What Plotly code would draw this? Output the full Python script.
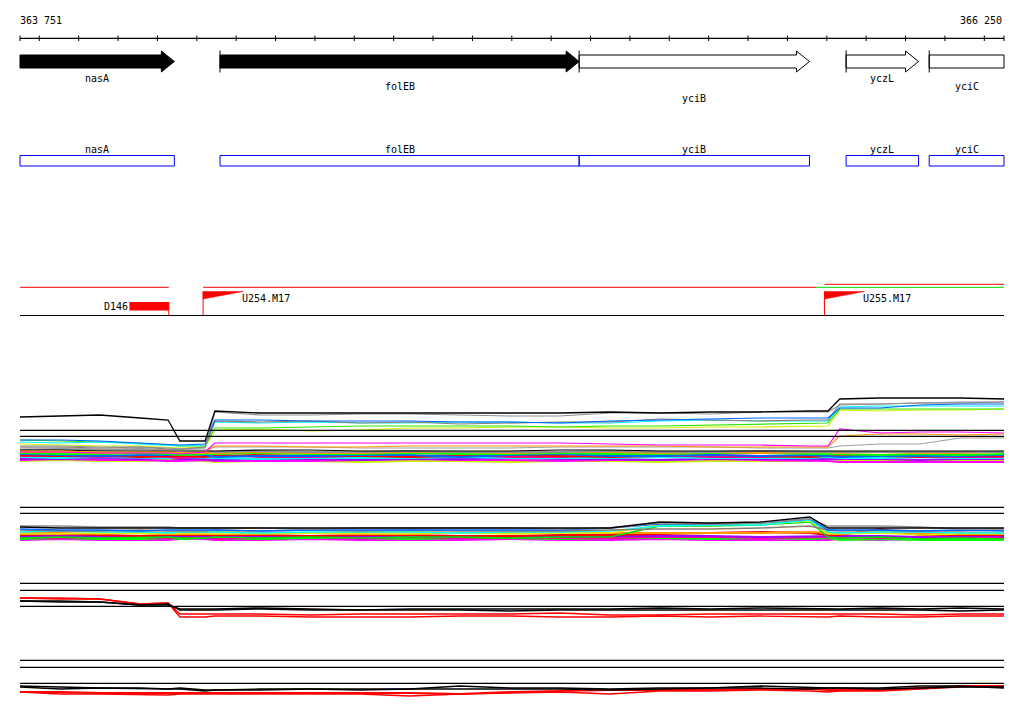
import plotly.graph_objects as go

W, H = 1024, 714
X_START, X_END = 363751, 366250
PX_LEFT, PX_RIGHT = 20, 1004

ruler_labels = ["363 751", "366 250"]
ruler_ticks = [363751] + list(range(363800, 366201, 100)) + [366250]

# genes
gene_names = ["nasA", "folEB", "yciB", "yczL", "yciC"]
gene_start = [363751, 364259, 365171, 365849, 366060]
gene_end = [364143, 365171, 365756, 366033, 366250]
gene_filled = [True, True, False, False, False]
gene_arrow = [True, True, True, True, False]
gene_start_tick = [False, True, True, True, True]

# annotation features
feat_names = ["D146", "U254.M17", "U255.M17"]
feat_pos = [364129, 364216, 365794]
feat_dir = ["left", "right", "right"]
d146_block = [364029, 364129]
seg_red = [[363751, 364129], [364216, 365773]]
seg_red_hi = [[365794, 366250]]
seg_green = [[365773, 366250]]

# probe positions (bp)
probe_pos = [363751, 363853, 363954, 364056, 364127, 364157, 364221, 364246, 364361,
             364488, 364615, 364741, 364868, 364995, 365122, 365249, 365376, 365503,
             365630, 365757, 365803, 365833, 365935, 366037, 366138, 366250]

# ---- track 1 ----
t1_ref = [3.97, 3.37]
t1_black = [5.3, 5.4, 5.5, 5.2, 5.0, 2.9, 2.9, 5.9, 5.7, 5.7, 5.7, 5.7, 5.7, 5.7, 5.7, 5.8, 5.7, 5.8, 5.8, 5.9, 5.9, 7.1, 7.2, 7.2, 7.2, 7.1]
t1_grey = [2.4, 2.4, 2.3, 2.3, 2.2, 2.1, 2.2, 5.8, 5.5, 5.5, 5.6, 5.6, 5.5, 5.4, 5.4, 5.7, 5.7, 5.6, 5.8, 5.8, 5.8, 6.5, 6.6, 6.7, 6.8, 6.8]
t1_blue = [3.0, 3.0, 2.9, 2.7, 2.5, 2.5, 2.6, 5.0, 5.0, 4.9, 4.9, 4.9, 4.8, 4.8, 4.7, 4.9, 5.0, 5.1, 5.2, 5.2, 5.2, 6.2, 6.2, 6.5, 6.6, 6.6]
t1_cyan = [2.8, 2.7, 2.8, 2.6, 2.4, 2.4, 2.5, 4.8, 4.7, 4.8, 4.7, 4.7, 4.8, 4.8, 4.7, 4.7, 4.9, 5.0, 4.9, 4.9, 4.9, 6.3, 6.4, 6.4, 6.4, 6.4]
t1_brown = [2.3, 2.3, 2.2, 2.3, 2.1, 2.1, 2.3, 4.9, 4.8, 4.9, 4.7, 4.8, 4.6, 4.7, 4.8, 4.8, 5.1, 5.0, 4.9, 5.0, 5.0, 6.6, 6.6, 6.7, 6.7, 6.8]
t1_green = [3.0, 2.9, 2.8, 2.7, 2.5, 2.4, 2.4, 4.2, 4.2, 4.3, 4.4, 4.4, 4.4, 4.4, 4.3, 4.4, 4.4, 4.5, 4.6, 4.7, 4.7, 6.1, 6.1, 6.1, 6.1, 6.1]
t1_yellow = [2.6, 2.5, 2.4, 2.4, 2.3, 2.2, 2.3, 4.0, 4.1, 3.9, 4.0, 4.2, 4.2, 4.3, 4.3, 4.2, 4.2, 4.3, 4.3, 4.4, 4.4, 6.0, 5.9, 6.0, 6.0, 6.1]
t1_lgrey = [2.2, 2.2, 2.1, 2.1, 2.0, 2.0, 2.0, 2.3, 2.3, 2.3, 2.2, 2.2, 2.2, 2.2, 2.3, 2.3, 2.3, 2.3, 2.2, 2.2, 2.2, 2.4, 2.6, 2.6, 3.2, 3.2]
t1_magenta = [1.8, 1.8, 1.7, 1.7, 1.7, 1.6, 1.8, 2.7, 2.7, 2.7, 2.7, 2.7, 2.7, 2.7, 2.7, 2.6, 2.5, 2.5, 2.5, 2.4, 2.4, 4.1, 3.7, 3.8, 3.8, 3.7]
t1_orange = [1.9, 1.9, 1.8, 1.8, 1.8, 1.7, 1.8, 2.4, 2.4, 2.3, 2.3, 2.4, 2.4, 2.4, 2.4, 2.4, 2.4, 2.3, 2.3, 2.3, 2.3, 3.4, 3.6, 3.6, 3.5, 3.6]
t1_band_black = [2.0, 2.0, 1.9, 1.9, 1.9, 1.9, 1.9, 1.9, 2.0, 2.0, 1.9, 1.9, 1.9, 1.9, 2.0, 2.0, 1.9, 1.9, 1.9, 1.9, 1.9, 1.9, 1.9, 1.9, 1.9, 1.9]
t1_band_red = [1.5, 1.4, 1.5, 1.3, 1.4, 1.4, 1.3, 1.4, 1.5, 1.4, 1.4, 1.3, 1.4, 1.5, 1.4, 1.3, 1.4, 1.5, 1.4, 1.3, 1.4, 1.5, 1.4, 1.3, 1.4, 1.4]
t1_band_magenta = [1.0, 1.1, 1.0, 1.0, 0.9, 0.9, 1.0, 0.9, 0.9, 0.9, 1.0, 1.1, 1.0, 1.0, 0.9, 1.0, 1.0, 1.1, 1.0, 0.9, 0.9, 0.8, 0.8, 0.8, 0.8, 0.8]
t1_band_green = [1.7, 1.6, 1.6, 1.7, 1.6, 1.5, 1.6, 1.6, 1.7, 1.6, 1.6, 1.7, 1.6, 1.6, 1.7, 1.6, 1.6, 1.7, 1.7, 1.6, 1.6, 1.6, 1.5, 1.6, 1.5, 1.6]
t1_band_cyan = [1.3, 1.2, 1.3, 1.2, 1.2, 1.3, 1.2, 1.2, 1.1, 1.2, 1.2, 1.2, 1.3, 1.2, 1.2, 1.2, 1.3, 1.2, 1.2, 1.2, 1.3, 1.2, 1.2, 1.3, 1.2, 1.2]
t1_band_blue = [1.6, 1.5, 1.4, 1.5, 1.5, 1.6, 1.5, 1.3, 1.4, 1.4, 1.5, 1.5, 1.3, 1.5, 1.6, 1.4, 1.4, 1.5, 1.4, 1.5, 1.4, 1.3, 1.4, 1.4, 1.4, 1.5]
t1_band_purple = [1.1, 1.1, 1.2, 1.1, 1.2, 1.1, 1.1, 1.0, 1.1, 1.1, 1.0, 1.1, 1.1, 1.2, 1.1, 1.1, 1.0, 1.1, 1.1, 1.1, 1.1, 1.1, 1.1, 1.0, 1.1, 1.1]
t1_band_pink = [1.4, 1.4, 1.3, 1.4, 1.3, 1.2, 1.4, 1.5, 1.3, 1.3, 1.4, 1.4, 1.5, 1.3, 1.3, 1.5, 1.5, 1.3, 1.3, 1.4, 1.5, 1.4, 1.5, 1.4, 1.3, 1.3]
t1_band_orange = [1.8, 1.8, 1.7, 1.8, 1.8, 1.7, 1.7, 1.7, 1.8, 1.7, 1.7, 1.8, 1.8, 1.7, 1.8, 1.8, 1.7, 1.8, 1.7, 1.8, 1.8, 1.7, 1.8, 1.7, 1.7, 1.8]
t1_band_grey = [2.0, 2.1, 2.0, 2.1, 2.0, 2.0, 1.9, 1.8, 1.9, 1.8, 1.8, 1.9, 1.8, 1.8, 1.8, 1.9, 1.8, 1.8, 1.9, 1.8, 1.8, 1.8, 1.8, 1.8, 1.8, 1.8]
t1_band_lgreen = [0.9, 1.0, 0.9, 0.9, 1.0, 1.0, 0.9, 0.8, 0.9, 0.9, 0.8, 0.9, 0.9, 0.8, 0.9, 0.9, 0.8, 0.9, 0.9, 0.9, 0.9, 0.9, 0.9, 1.0, 0.9, 1.0]

# ---- track 2 ----
t2_ref = [4.77, 4.17]
t2_black = [2.8, 2.7, 2.7, 2.7, 2.7, 2.7, 2.7, 2.7, 2.7, 2.7, 2.7, 2.7, 2.7, 2.7, 2.7, 2.7, 3.3, 3.2, 3.3, 3.8, 2.7, 2.7, 2.7, 2.7, 2.7, 2.7]
t2_grey = [2.9, 2.9, 2.8, 2.8, 2.8, 2.7, 2.7, 2.7, 2.7, 2.6, 2.7, 2.7, 2.7, 2.7, 2.6, 2.7, 3.2, 3.1, 3.2, 3.6, 2.9, 2.9, 2.9, 2.8, 2.6, 2.6]
t2_blue = [2.6, 2.5, 2.5, 2.4, 2.5, 2.5, 2.5, 2.5, 2.4, 2.5, 2.5, 2.5, 2.5, 2.5, 2.5, 2.7, 3.1, 3.1, 3.2, 3.6, 2.5, 2.5, 2.5, 2.4, 2.5, 2.4]
t2_cyan = [2.3, 2.4, 2.3, 2.3, 2.2, 2.3, 2.3, 2.3, 2.2, 2.3, 2.3, 2.3, 2.2, 2.3, 2.3, 2.4, 2.9, 3.0, 3.0, 3.5, 2.3, 2.2, 2.3, 2.3, 2.2, 2.2]
t2_yellow = [2.1, 2.1, 2.2, 2.1, 2.1, 2.1, 2.1, 2.1, 2.1, 2.2, 2.1, 2.1, 2.2, 2.1, 2.2, 2.2, 3.0, 3.1, 3.1, 3.4, 2.1, 2.1, 2.2, 2.0, 2.1, 2.1]
t2_green = [1.7, 1.8, 1.7, 1.8, 1.8, 1.7, 1.7, 1.8, 1.7, 1.8, 1.7, 1.8, 1.8, 1.7, 1.8, 1.8, 2.9, 2.9, 3.0, 3.3, 1.8, 1.7, 1.8, 1.6, 1.7, 1.6]
t2_brown = [2.5, 2.4, 2.4, 2.5, 2.4, 2.4, 2.4, 2.5, 2.4, 2.5, 2.4, 2.5, 2.4, 2.4, 2.4, 2.5, 2.6, 2.6, 2.7, 2.9, 2.5, 2.4, 2.5, 2.4, 2.4, 2.5]
t2_red = [2.0, 2.1, 2.0, 1.9, 2.0, 2.0, 2.0, 2.0, 2.0, 1.9, 2.0, 2.0, 1.9, 1.9, 2.0, 2.0, 2.1, 2.2, 2.3, 2.2, 2.0, 2.0, 2.6, 2.0, 2.0, 2.0]
t2_magenta = [1.5, 1.6, 1.5, 1.5, 1.5, 1.6, 1.6, 1.5, 1.5, 1.6, 1.5, 1.5, 1.5, 1.6, 1.5, 1.5, 1.6, 1.5, 1.5, 1.5, 1.5, 1.6, 1.5, 1.6, 1.5, 1.6]
t2_orange = [2.2, 2.2, 2.1, 2.3, 2.2, 2.2, 2.2, 2.3, 2.2, 2.2, 2.2, 2.3, 2.2, 2.2, 2.3, 2.2, 2.2, 2.2, 2.2, 2.3, 2.2, 2.2, 2.3, 2.2, 2.2, 2.2]
t2_purple = [1.9, 1.9, 1.9, 1.9, 1.8, 1.9, 1.9, 1.9, 1.9, 1.8, 1.9, 1.9, 1.8, 1.9, 1.9, 1.9, 1.9, 1.9, 1.8, 1.9, 1.9, 1.9, 1.9, 1.8, 1.9, 1.9]
t2_lgreen = [1.6, 1.7, 1.6, 1.6, 1.7, 1.6, 1.7, 1.7, 1.6, 1.7, 1.7, 1.6, 1.7, 1.7, 1.6, 1.7, 1.7, 1.6, 1.7, 1.6, 1.7, 1.5, 1.6, 1.5, 1.5, 1.5]
t2_pink = [1.8, 1.7, 1.8, 1.8, 1.7, 1.8, 1.8, 1.6, 1.8, 1.8, 1.7, 1.8, 1.7, 1.8, 1.7, 1.7, 1.8, 1.8, 1.7, 1.8, 1.8, 1.8, 1.7, 1.8, 1.7, 1.8]

# ---- track 3 ----
t3_ref = [5.17, 4.47, 2.87]
t3_red1 = [3.7, 3.7, 3.6, 3.1, 3.2, 2.1, 2.1, 2.1, 2.1, 2.0, 2.1, 2.1, 2.1, 2.1, 2.2, 2.0, 2.0, 2.1, 2.1, 2.1, 2.1, 2.1, 2.1, 2.0, 2.1, 2.1]
t3_red2 = [3.7, 3.6, 3.6, 3.1, 3.2, 1.8, 1.8, 1.9, 1.9, 1.8, 1.8, 1.8, 1.9, 1.9, 1.8, 1.8, 1.9, 1.8, 1.9, 1.8, 1.8, 1.9, 1.8, 1.8, 1.9, 1.9]
t3_black1 = [3.4, 3.4, 3.3, 3.0, 3.0, 2.6, 2.6, 2.6, 2.7, 2.6, 2.5, 2.6, 2.6, 2.6, 2.6, 2.6, 2.7, 2.6, 2.7, 2.6, 2.6, 2.6, 2.7, 2.6, 2.7, 2.6]
t3_black2 = [3.4, 3.3, 3.3, 3.0, 3.1, 2.5, 2.5, 2.5, 2.6, 2.5, 2.5, 2.5, 2.5, 2.4, 2.5, 2.5, 2.5, 2.5, 2.5, 2.5, 2.5, 2.5, 2.5, 2.5, 2.4, 2.5]

# ---- track 4 ----
t4_ref = [4.97, 4.27, 2.67]
t4_black1 = [2.4, 2.3, 2.2, 2.2, 2.1, 2.2, 2.0, 2.0, 2.0, 2.1, 2.1, 2.1, 2.4, 2.2, 2.2, 2.1, 2.2, 2.2, 2.4, 2.2, 2.2, 2.2, 2.2, 2.4, 2.4, 2.2]
t4_black2 = [2.3, 2.1, 2.2, 2.1, 2.1, 2.1, 1.9, 2.0, 2.1, 2.1, 2.0, 2.1, 2.1, 2.1, 2.1, 2.0, 2.1, 2.2, 2.2, 2.1, 2.2, 2.2, 2.1, 2.2, 2.3, 2.3]
t4_red1 = [1.8, 1.8, 1.7, 1.7, 1.7, 1.7, 1.7, 1.7, 1.7, 1.7, 1.7, 1.7, 1.6, 1.8, 1.9, 2.0, 2.0, 2.0, 2.1, 2.1, 2.0, 2.0, 2.0, 2.2, 2.4, 2.4]
t4_red2 = [1.8, 1.6, 1.6, 1.5, 1.5, 1.6, 1.6, 1.6, 1.6, 1.6, 1.6, 1.4, 1.6, 1.7, 1.8, 1.6, 1.9, 1.9, 2.0, 1.9, 1.8, 1.9, 1.9, 2.1, 2.3, 2.4]

# ================= figure =================
bp_per_px = (X_END - X_START) / (PX_RIGHT - PX_LEFT)
x_range = [X_START - PX_LEFT * bp_per_px, X_END + (W - PX_RIGHT) * bp_per_px]
head_bp = 13 * bp_per_px
FONT = dict(family="DejaVu Sans Mono", size=10, color="black")


def dom(top, bottom):
    return [1 - bottom / H, 1 - top / H]


fig = go.Figure()
shapes = []
annotations = []


def hline(x0, x1, y, color="black", width=1.2, yref="y"):
    shapes.append(dict(type="line", xref="x", yref=yref, x0=x0, x1=x1, y0=y, y1=y,
                       line=dict(color=color, width=width)))


# ruler
hline(X_START, X_END, 38.3)
tx, ty = [], []
for t in ruler_ticks:
    tx += [t, t, None]
    ty += [35.5, 41, None]
fig.add_trace(go.Scatter(x=tx, y=ty, mode="lines", line=dict(color="black", width=1), hoverinfo="skip"))
annotations.append(dict(x=X_START, y=20.5, text=ruler_labels[0], xanchor="left", yanchor="middle", xshift=-2))
annotations.append(dict(x=X_END, y=20.5, text=ruler_labels[1], xanchor="right", yanchor="middle", xshift=0))

# genes
label_rows = [78, 86, 98, 78, 86]
for i, name in enumerate(gene_names):
    s, e = gene_start[i], gene_end[i]
    if gene_arrow[i]:
        h = e - head_bp
        px = [s, h, h, e, h, h, s, s]
        py = [55, 55, 51, 61.5, 72, 68, 68, 55]
    else:
        px = [s, e, e, s, s]
        py = [55, 55, 68, 68, 55]
    fill = "black" if gene_filled[i] else "white"
    fig.add_trace(go.Scatter(x=px, y=py, mode="lines", fill="toself", fillcolor=fill,
                             line=dict(color="black", width=1), hoverinfo="skip"))
    if gene_start_tick[i]:
        fig.add_trace(go.Scatter(x=[s, s], y=[50.5, 72.5], mode="lines",
                                 line=dict(color="black", width=1), hoverinfo="skip"))
    cx = (s + min(e, X_END)) / 2
    annotations.append(dict(x=cx, y=label_rows[i], text=name, xanchor="center", yanchor="middle"))
    # blue CDS box row
    shapes.append(dict(type="rect", xref="x", yref="y", x0=s, x1=e, y0=155.5, y1=166,
                       line=dict(color="#0000ff", width=1), fillcolor="rgba(0,0,0,0)"))
    annotations.append(dict(x=cx, y=149, text=name, xanchor="center", yanchor="middle"))

# annotation (feature) track
for a, b in seg_red:
    hline(a, b, 287.3, color="#ff0000", width=1)
for a, b in seg_green:
    hline(a, b, 287.3, color="#00dd00", width=1)
for a, b in seg_red_hi:
    hline(a, b, 284.3, color="#ff0000", width=1)
hline(X_START, X_END, 315.5, color="black", width=1.2)

shapes.append(dict(type="rect", xref="x", yref="y", x0=d146_block[0], x1=d146_block[1],
                   y0=302, y1=310.5, fillcolor="#ff0000", line=dict(width=0)))
tri_bp = 40 * bp_per_px
for i, name in enumerate(feat_names):
    p = feat_pos[i]
    if feat_dir[i] == "left":
        shapes.append(dict(type="line", xref="x", yref="y", x0=p, x1=p, y0=302, y1=315.5,
                           line=dict(color="#ff0000", width=1)))
        annotations.append(dict(x=d146_block[0], y=306, text=name, xanchor="right",
                                yanchor="middle", xshift=1))
    else:
        shapes.append(dict(type="line", xref="x", yref="y", x0=p, x1=p, y0=291.5, y1=315.5,
                           line=dict(color="#ff0000", width=1)))
        fig.add_trace(go.Scatter(x=[p, p + tri_bp, p, p], y=[291.5, 291.5, 299, 291.5],
                                 mode="lines", fill="toself", fillcolor="#ff0000",
                                 line=dict(color="#ff0000", width=0.5), hoverinfo="skip"))
        annotations.append(dict(x=p + tri_bp, y=298, text=name, xanchor="left",
                                yanchor="middle", xshift=-3))

# expression tracks
tracks = [
    ("y2", t1_ref, [
        (t1_band_lgreen, "#c8f000", 2.0), (t1_band_magenta, "#ff00ff", 2.2),
        (t1_band_purple, "#a000ff", 2.0), (t1_band_cyan, "#00ffff", 2.0),
        (t1_band_pink, "#ff0090", 2.0), (t1_band_red, "#ff0000", 2.2),
        (t1_band_blue, "#0064ff", 2.0), (t1_band_green, "#00ff00", 2.0),
        (t1_band_orange, "#ff9600", 2.0), (t1_band_grey, "#909090", 2.0),
        (t1_band_black, "#000000", 1.2), (t1_lgrey, "#a0a0a0", 1.2),
        (t1_orange, "#ff9600", 1.2), (t1_magenta, "#ff00ff", 1.2),
        (t1_yellow, "#d2f000", 1.2), (t1_green, "#32e600", 1.2),
        (t1_cyan, "#00f0ff", 1.2), (t1_brown, "#8c7c70", 1.2),
        (t1_blue, "#0064ff", 1.2), (t1_grey, "#909090", 1.2),
        (t1_black, "#000000", 1.3)]),
    ("y3", t2_ref, [
        (t2_magenta, "#ff00ff", 2.0), (t2_lgreen, "#00ff00", 2.0),
        (t2_pink, "#ff0090", 2.0), (t2_purple, "#a000ff", 2.0),
        (t2_red, "#ff0000", 2.0), (t2_orange, "#ff9600", 2.0),
        (t2_green, "#00e000", 1.3), (t2_yellow, "#e6f000", 1.3),
        (t2_cyan, "#00ffff", 1.5), (t2_brown, "#8c7c70", 1.5),
        (t2_blue, "#0064ff", 1.3), (t2_grey, "#909090", 1.3),
        (t2_black, "#000000", 1.3)]),
    ("y4", t3_ref, [
        (t3_red2, "#ff0000", 1.3), (t3_red1, "#ff0000", 1.6),
        (t3_black2, "#000000", 1.3), (t3_black1, "#000000", 1.6)]),
    ("y5", t4_ref, [
        (t4_red2, "#ff0000", 1.3), (t4_red1, "#ff0000", 2.0),
        (t4_black2, "#000000", 1.3), (t4_black1, "#000000", 1.6)]),
]
for yref, refs, series in tracks:
    for r in refs:
        hline(X_START, X_END, r, yref=yref, width=1.3)
    for vals, color, width in series:
        fig.add_trace(go.Scatter(x=probe_pos, y=vals, mode="lines", yaxis=yref,
                                 line=dict(color=color, width=width),
                                 hoverinfo="skip"))

for a in annotations:
    a.update(xref="x", yref="y", showarrow=False, font=FONT)

ax = dict(visible=False, showgrid=False, zeroline=False, fixedrange=True)
fig.update_layout(
    width=W, height=H, margin=dict(l=0, r=0, t=0, b=0),
    paper_bgcolor="white", plot_bgcolor="white", showlegend=False,
    xaxis=dict(range=x_range, domain=[0, 1], **ax),
    yaxis=dict(range=[H, 0], domain=[0, 1], **ax),
    yaxis2=dict(range=[0, 8], domain=dom(390, 470), anchor="x", **ax),
    yaxis3=dict(range=[0, 6], domain=dom(495, 555), anchor="x", **ax),
    yaxis4=dict(range=[0, 6], domain=dom(575, 635), anchor="x", **ax),
    yaxis5=dict(range=[0, 6], domain=dom(650, 710), anchor="x", **ax),
    shapes=shapes, annotations=annotations,
)
fig.write_html("out.html", config={"displayModeBar": False},
               post_script="document.body.style.margin='0px';document.body.style.overflow='hidden';")
